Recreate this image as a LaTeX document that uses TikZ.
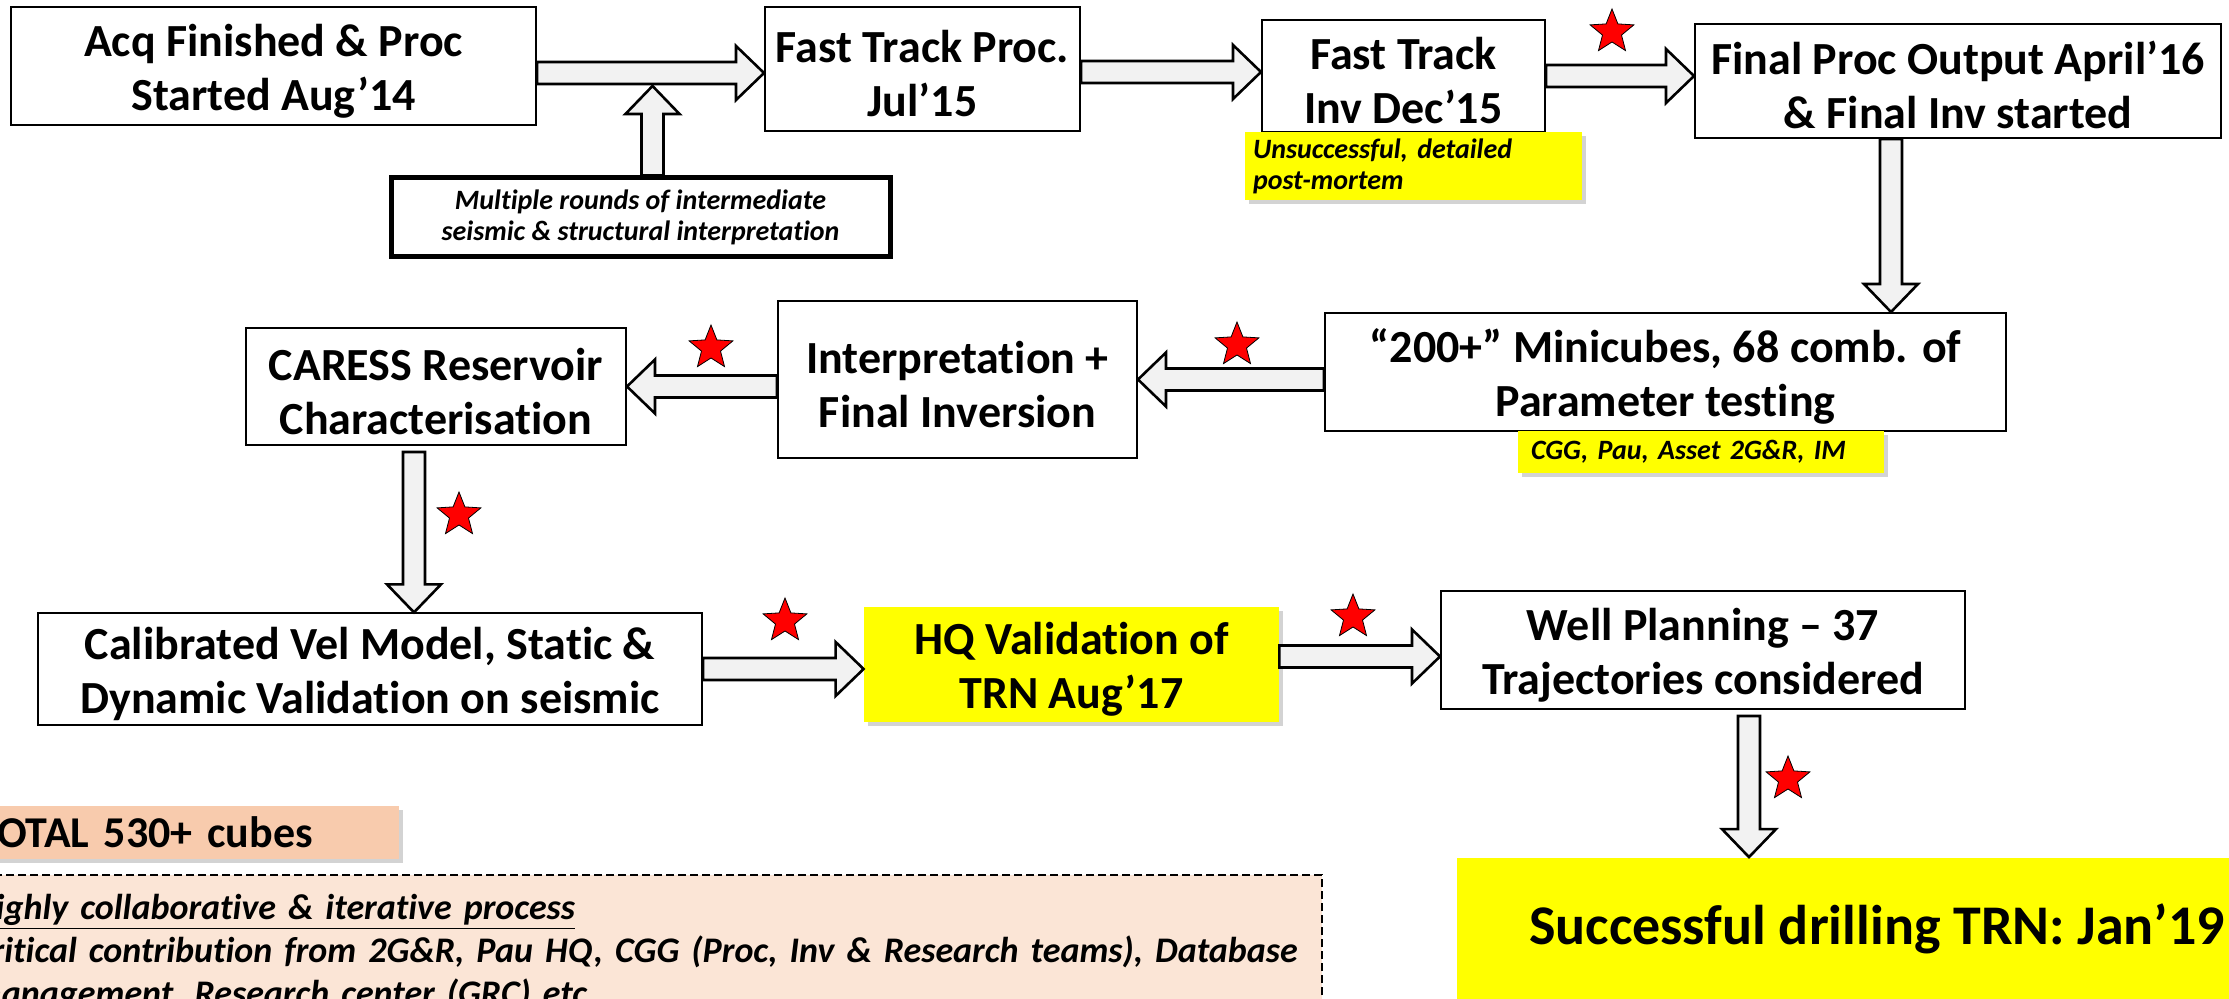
\documentclass[tikz,border=0pt]{standalone}
\usepackage{fontspec}
\setmainfont{Carlito}[Ligatures={NoCommon}]
\usetikzlibrary{calc,shapes.geometric,shadows}

\definecolor{notey}{HTML}{FFFF00}
\definecolor{arrowfill}{HTML}{F2F2F2}
\definecolor{totalfill}{HTML}{F8CBAD}
\definecolor{panelfill}{HTML}{FBE5D6}

% block arrow from #1 to #2
\newcommand{\fatarrow}[2]{%
  \coordinate (fa-s) at (#1);
  \coordinate (fa-e) at (#2);
  \coordinate (fa-b) at ($(fa-e)!14pt!(fa-s)$);
  \filldraw[blockarrow] ($(fa-s)!5.5pt!90:(fa-e)$) -- ($(fa-b)!5.5pt!90:(fa-e)$)
    -- ($(fa-b)!13.5pt!90:(fa-e)$) -- (fa-e) -- ($(fa-b)!13.5pt!-90:(fa-e)$)
    -- ($(fa-b)!5.5pt!-90:(fa-e)$) -- ($(fa-s)!5.5pt!-90:(fa-e)$) -- cycle;
}

\begin{document}
\begin{tikzpicture}[x=0.5pt, y=-0.5pt,
  textlow/.style={execute at begin node={\rule{0pt}{48pt}}},
  box/.style={draw, line width=1pt, fill=white, align=center, inner sep=2pt,
              font=\fontsize{23}{27}\selectfont\bfseries, textlow},
  hibox/.style={fill=notey, align=center, inner sep=2pt,
                font=\fontsize{23}{27}\selectfont\bfseries,
                drop shadow={opacity=0.35, shadow xshift=2pt, shadow yshift=-2pt}},
  note/.style={fill=notey, align=left, inner xsep=4pt, inner ysep=2pt,
               font=\fontsize{14}{15.5}\selectfont\bfseries\itshape,
               drop shadow={opacity=0.35, shadow xshift=2pt, shadow yshift=-2pt}},
  blockarrow/.style={fill=arrowfill, draw=black, line width=1.3pt, line join=miter},
  starmark/.style={star, star points=5, star point ratio=2.3, fill=red, draw=black,
                   line width=0.4pt, minimum size=23pt, inner sep=0pt}
]
  \useasboundingbox (0,0) rectangle (2229,999);
  \clip (0,0) rectangle (2229,999);

  % first row
  \node[box, minimum width=262.5pt, minimum height=59pt] (acq) at (273.5,66)
    {Acq Finished \& Proc\\Started Aug’14};
  \node[box, minimum width=157.5pt, minimum height=62pt] (ftproc) at (922.5,69)
    {Fast Track Proc.\\Jul’15};
  \node[box, minimum width=141.5pt, minimum height=56pt] (ftinv) at (1403.5,76)
    {Fast Track\\Inv Dec’15};
  \node[box, minimum width=263pt, minimum height=57pt] (finalproc) at (1958,81)
    {Final Proc Output April’16\\\& Final Inv started};
  \node[draw, line width=2.5pt, fill=white, align=center, inner sep=2pt,
        minimum width=249.5pt, minimum height=39.5pt,
        font=\fontsize{14}{15.5}\selectfont\bfseries\itshape] (multi) at (640.5,217.5)
    {Multiple rounds of intermediate\\seismic \& structural interpretation};
  \node[note, text width=160.5pt, minimum height=34pt] (unsucc) at (1413.5,166)
    {Unsuccessful, detailed\\post-mortem};

  % second row
  \node[box, minimum width=340.5pt, minimum height=59pt] (minicubes) at (1665.5,372)
    {“200+” Minicubes, 68 comb. of\\Parameter testing};
  \node[note, inner xsep=6.5pt, text width=170pt, minimum height=21pt] (cgg) at (1701,452)
    {CGG, Pau, Asset 2G\&R, IM};
  \node[box, minimum width=179.5pt, minimum height=78.5pt] (interp) at (957.5,379.5)
    {Interpretation +\\Final Inversion};
  \node[box, minimum width=190pt, minimum height=58.5pt] (caress) at (436,386.5)
    {CARESS Reservoir\\Characterisation};

  % third row
  \node[box, minimum width=332pt, minimum height=55pt] (calib) at (370,669)
    {Calibrated Vel Model, Static \&\\Dynamic Validation on seismic};
  \node[hibox, textlow, minimum width=207.5pt, minimum height=57.5pt] (hqval) at (1071.5,664.5)
    {HQ Validation of\\TRN Aug’17};
  \node[box, minimum width=262pt, minimum height=59pt] (well) at (1703,650)
    {Well Planning – 37\\Trajectories considered};
  \node[hibox, minimum width=420pt, minimum height=71.5pt,
        font=\fontsize{28}{32}\selectfont\bfseries] (drill) at (1877,929)
    {Successful drilling TRN: Jan’19};

  % summary
  \node[draw, dashed, line width=1pt, dash pattern=on 4pt off 2pt, fill=panelfill,
        anchor=north west, align=left, inner xsep=9.5pt, text width=665pt,
        minimum height=78pt, font=\fontsize{18}{21.5}\selectfont\bfseries\itshape]
        (collab) at (-47,874)
    {\underline{Highly collaborative \& iterative process}\\
     Critical contribution from 2G\&R, Pau HQ, CGG (Proc, Inv \& Research teams), Database\\
     management, Research center (GRC) etc};
  \node[fill=totalfill, anchor=west, align=left, inner xsep=9pt, text width=202.5pt,
        minimum height=26.5pt, font=\fontsize{22}{26}\selectfont\bfseries,
        drop shadow={opacity=0.35, shadow xshift=2pt, shadow yshift=-2pt}]
        (total) at (-42,832.5) {TOTAL 530+ cubes};

  % arrows
  \fatarrow{$(acq.east)+(0,7)$}{$(ftproc.west |- acq.east)+(0,7)$}
  \fatarrow{$(ftproc.east)+(0,3)$}{$(ftinv.west |- ftproc.east)+(0,3)$}
  \fatarrow{ftinv.east}{finalproc.west |- ftinv.east}
  \coordinate (fpdown) at ($(finalproc.south)+(-67,0)$);
  \fatarrow{fpdown}{fpdown |- minicubes.north}
  \fatarrow{minicubes.west |- interp.east}{interp.east}
  \fatarrow{interp.west |- caress.east}{caress.east}
  \coordinate (cadown) at ($(caress.south)+(-22,6)$);
  \fatarrow{cadown}{cadown |- calib.north}
  \fatarrow{calib.east}{hqval.west |- calib.east}
  \fatarrow{$(hqval.east)+(0,-8)$}{$(well.west |- hqval.east)+(0,-8)$}
  \coordinate (wldown) at ($(well.south)+(46,6)$);
  \fatarrow{wldown}{wldown |- drill.north}
  \coordinate (mup) at ($(multi.north)+(12,0)$);
  \fatarrow{mup}{$(mup |- acq.east)+(0,20)$}

  % milestones
  \node[starmark] (st1) at (1612,32) {};
  \node[starmark] (st2) at (1237,345) {};
  \node[starmark] (st3) at (711,348) {};
  \node[starmark] (st4) at (459,515) {};
  \node[starmark] (st5) at (785,621) {};
  \node[starmark] (st6) at (1353,617) {};
  \node[starmark] (st7) at (1788,779) {};
\end{tikzpicture}
\end{document}
